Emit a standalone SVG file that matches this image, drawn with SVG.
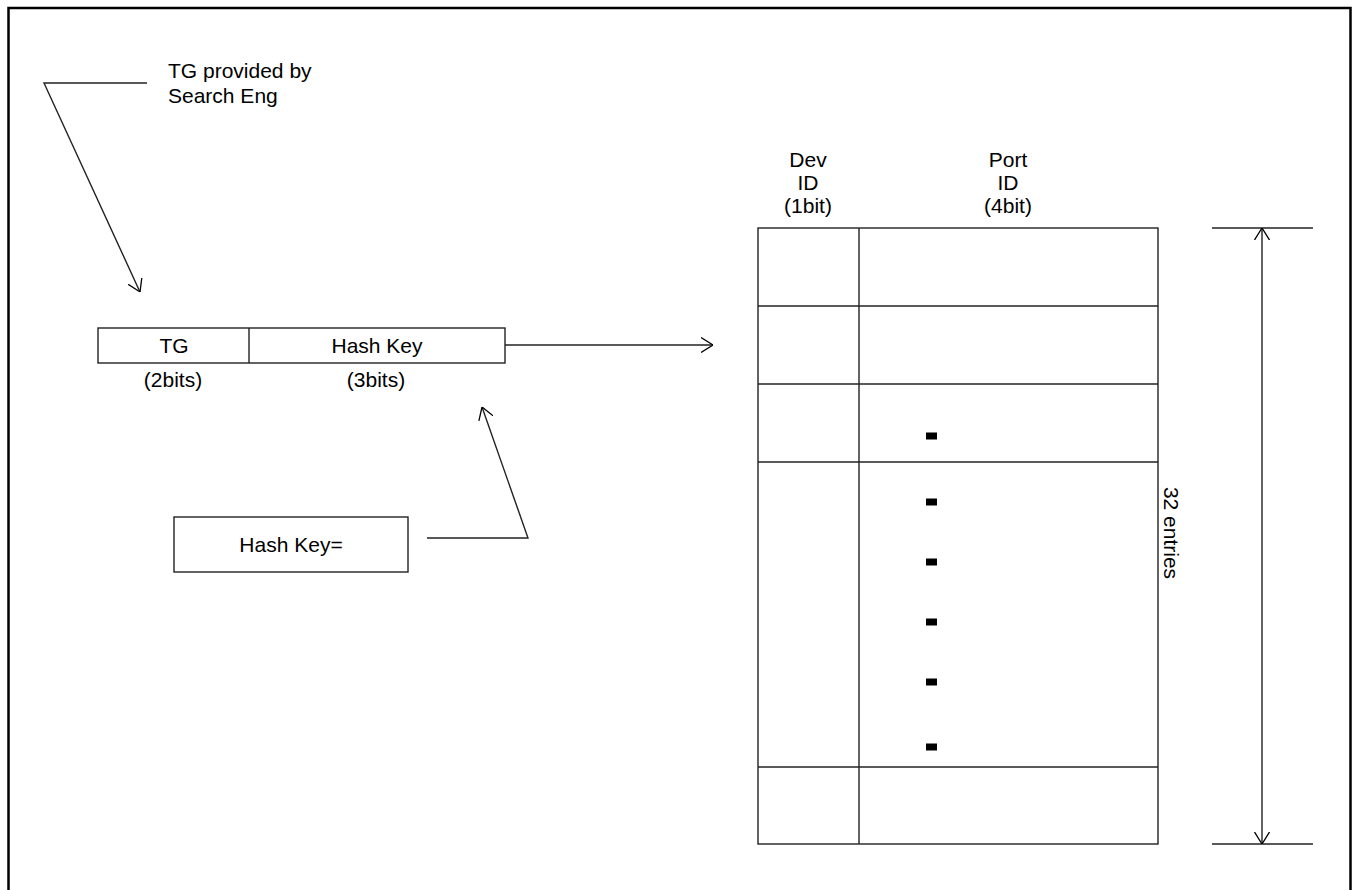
<svg xmlns="http://www.w3.org/2000/svg" width="1354" height="890" viewBox="0 0 1354 890">
<style>
  text { font-family: "Liberation Sans", Arial, sans-serif; font-size: 21px; fill: #000; }
  .c { text-anchor: middle; }
  .box { fill: #fff; stroke: #222; stroke-width: 1.4; }
  .ln { fill: none; stroke: #222; stroke-width: 1.4; }
  .dot { fill: #000; }
</style>
<defs>
  <marker id="arr" viewBox="0 0 12 16" refX="12" refY="8" markerWidth="12" markerHeight="16" orient="auto-start-reverse" markerUnits="userSpaceOnUse">
    <path d="M0,0.5 L12,8 L0,15.5" fill="none" stroke="#000" stroke-width="1.3"/>
  </marker>
</defs>
<rect x="0" y="0" width="1354" height="890" fill="#fff"/>
<rect x="8.5" y="8" width="1342" height="900" fill="none" stroke="#000" stroke-width="2.5"/>

<g id="note-tg">
  <text x="168" y="78">TG provided by</text>
  <text x="168" y="103">Search Eng</text>
</g>

<g id="key-field">
  <rect class="box" x="98" y="328" width="407" height="35"/>
  <line class="ln" x1="249" y1="328" x2="249" y2="363"/>
  <text class="c" x="174" y="353">TG</text>
  <text class="c" x="377" y="353">Hash Key</text>
  <text class="c" x="173" y="387">(2bits)</text>
  <text class="c" x="376" y="387">(3bits)</text>
</g>

<g id="hash-key-box">
  <rect class="box" x="174" y="517" width="234" height="55"/>
  <text class="c" x="291" y="552">Hash Key=</text>
</g>

<g id="table">
  <text class="c" x="808" y="167">Dev</text>
  <text class="c" x="808" y="190">ID</text>
  <text class="c" x="808" y="213">(1bit)</text>
  <text class="c" x="1008" y="167">Port</text>
  <text class="c" x="1008" y="190">ID</text>
  <text class="c" x="1008" y="213">(4bit)</text>
  <rect class="box" x="758" y="228" width="400" height="616"/>
  <line class="ln" x1="859" y1="228" x2="859" y2="844"/>
  <line class="ln" x1="758" y1="306" x2="1158" y2="306"/>
  <line class="ln" x1="758" y1="384" x2="1158" y2="384"/>
  <line class="ln" x1="758" y1="462" x2="1158" y2="462"/>
  <line class="ln" x1="758" y1="767" x2="1158" y2="767"/>
  <rect class="dot" x="926" y="432.5" width="11" height="7"/>
  <rect class="dot" x="926" y="498.5" width="11" height="7"/>
  <rect class="dot" x="926" y="558.5" width="11" height="7"/>
  <rect class="dot" x="926" y="618.5" width="11" height="7"/>
  <rect class="dot" x="926" y="678.5" width="11" height="7"/>
  <rect class="dot" x="926" y="743.5" width="11" height="7"/>
</g>

<g id="dimension">
  <line class="ln" x1="1212" y1="228" x2="1313" y2="228"/>
  <line class="ln" x1="1212" y1="844" x2="1313" y2="844"/>
  <text class="c" transform="translate(1164,533) rotate(90)">32 entries</text>
</g>

<g id="connectors">
  <polyline class="ln" points="147,83 44,83 140,292" marker-end="url(#arr)"/>
  <line class="ln" x1="505" y1="345" x2="713" y2="345" marker-end="url(#arr)"/>
  <polyline class="ln" points="427,538 528,538 482,407" marker-end="url(#arr)"/>
  <line class="ln" x1="1262" y1="228" x2="1262" y2="844" marker-start="url(#arr)" marker-end="url(#arr)"/>
</g>
</svg>
